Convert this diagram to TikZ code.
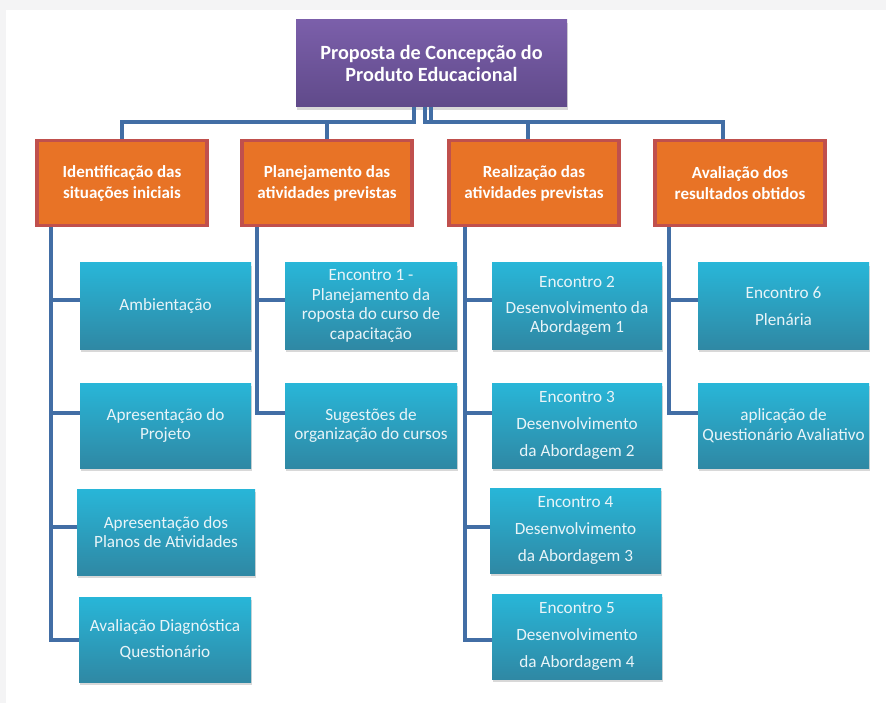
\documentclass[tikz,border=0pt]{standalone}
\usepackage{fontspec}
\setmainfont{Carlito}
\usetikzlibrary{shadows}
\definecolor{linec}{RGB}{66,110,165}
\definecolor{orangef}{RGB}{232,115,38}
\definecolor{oranged}{RGB}{192,80,77}
\definecolor{bluetop}{RGB}{40,182,216}
\definecolor{bluebot}{RGB}{47,136,164}
\definecolor{purtop}{RGB}{123,95,170}
\definecolor{purbot}{RGB}{96,74,138}
\definecolor{bgc}{RGB}{244,244,245}
\definecolor{leaftext}{RGB}{232,244,248}
\begin{document}
\begin{tikzpicture}[x=1pt,y=-1pt,
 conn/.style={draw=linec,line width=4pt},
 topbox/.style={minimum width=271pt,minimum height=87pt,inner sep=2pt,
   top color=purtop,bottom color=purbot,text=white,
   font=\fontsize{20.2}{22}\selectfont\bfseries,align=center,
   drop shadow={shadow xshift=1pt,shadow yshift=-3pt,opacity=0.3}},
 headbox/.style={minimum width=170pt,minimum height=85pt,inner sep=2pt,
   fill=orangef,draw=oranged,line width=3.5pt,text=white,
   font=\fontsize{17}{21}\selectfont\bfseries,align=center},
 leafbox/.style={minimum height=86pt,inner sep=2pt,
   top color=bluetop,bottom color=bluebot,text=leaftext,
   font=\fontsize{17.2}{19.5}\selectfont,align=center,
   drop shadow={shadow xshift=1pt,shadow yshift=-3pt,opacity=0.3}},
]
\useasboundingbox (0,0) rectangle (886,703);
\fill[bgc] (0,0) rectangle (886,703);
\fill[white] (6,10) rectangle (886,703);

% top
\node[topbox] (p) at (431.5,63.5) {Proposta de Concepção do\\Produto Educacional};

% heads
\node[headbox] (o1) at (122,183) {Identificação das\\situações iniciais};
\node[headbox] (o2) at (327,183) {Planejamento das\\atividades previstas};
\node[headbox] (o3) at (534,183) {Realização das\\atividades previstas};
\node[headbox] (o4) at (740,183) {Avaliação dos\\resultados obtidos};

% column 1
\node[leafbox,minimum width=171pt] (a1) at (165.5,306) {Ambientação};
\node[leafbox,minimum width=171pt,minimum height=85pt] (a2) at (165.5,425.5) {Apresentação do\\Projeto};
\node[leafbox,minimum width=178pt] (a3) at (166,532) {Apresentação dos\\Planos de Atividades};
\node[leafbox,minimum width=172pt,minimum height=85pt] (a4) at (165,639.5) {Avaliação Diagnóstica\\[6.5pt]Questionário};

% column 2
\node[leafbox,minimum width=172pt] (b1) at (371,306) {Encontro 1 -\\Planejamento da\\roposta do curso de\\capacitação};
\node[leafbox,minimum width=172pt,minimum height=85pt] (b2) at (371,425.5) {Sugestões de\\organização do cursos};

% column 3
\node[leafbox,minimum width=170pt] (c1) at (577,306) {Encontro 2\\[6.5pt]Desenvolvimento da\\Abordagem 1};
\node[leafbox,minimum width=170pt,minimum height=85pt] (c2) at (577,425.5) {Encontro 3\\[7.5pt]Desenvolvimento\\[7.5pt]da Abordagem 2};
\node[leafbox,minimum width=171pt,minimum height=85pt] (c3) at (575.5,530.5) {Encontro 4\\[7.5pt]Desenvolvimento\\[7.5pt]da Abordagem 3};
\node[leafbox,minimum width=170pt,minimum height=85pt] (c4) at (577,636.5) {Encontro 5\\[7.5pt]Desenvolvimento\\[7.5pt]da Abordagem 4};

% column 4
\node[leafbox,minimum width=171pt] (d1) at (783.5,306) {Encontro 6\\[7.5pt]Plenária};
\node[leafbox,minimum width=171pt,minimum height=85pt] (d2) at (783.5,425.5) {aplicação de\\Questionário Avaliativo};

% top connectors
\draw[conn] ([xshift=-17.5pt]p.south) -- ++(0,15) -| (o1.north);
\draw[conn] ([xshift=-17.5pt]p.south) -- ++(0,15) -| (o2.north);
\draw[conn] ([xshift=-7pt]p.south) -- ++(0,15) -| ([xshift=-6pt]o3.north);
\draw[conn] ([xshift=-1pt]p.south) -- ++(0,15) -| ([xshift=-17pt]o4.north);

% column connectors
\draw[conn] ([xshift=16pt]o1.south west) |- ([yshift=6pt]a1.west);
\draw[conn] ([xshift=16pt]o1.south west) |- ([yshift=12.5pt]a2.west);
\draw[conn] ([xshift=16pt]o1.south west) |- ([yshift=5pt]a3.west);
\draw[conn] ([xshift=16pt]o1.south west) |- (a4.west);

\draw[conn] ([xshift=17pt]o2.south west) |- ([yshift=6pt]b1.west);
\draw[conn] ([xshift=17pt]o2.south west) |- ([yshift=12.5pt]b2.west);

\draw[conn] ([xshift=18pt]o3.south west) |- ([yshift=6pt]c1.west);
\draw[conn] ([xshift=18pt]o3.south west) |- ([yshift=12.5pt]c2.west);
\draw[conn] ([xshift=18pt]o3.south west) |- ([yshift=3.5pt]c3.west);
\draw[conn] ([xshift=18pt]o3.south west) |- ([yshift=-3.5pt]c4.west);

\draw[conn] ([xshift=16pt]o4.south west) |- ([yshift=6pt]d1.west);
\draw[conn] ([xshift=16pt]o4.south west) |- ([yshift=12.5pt]d2.west);
\end{tikzpicture}
\end{document}
